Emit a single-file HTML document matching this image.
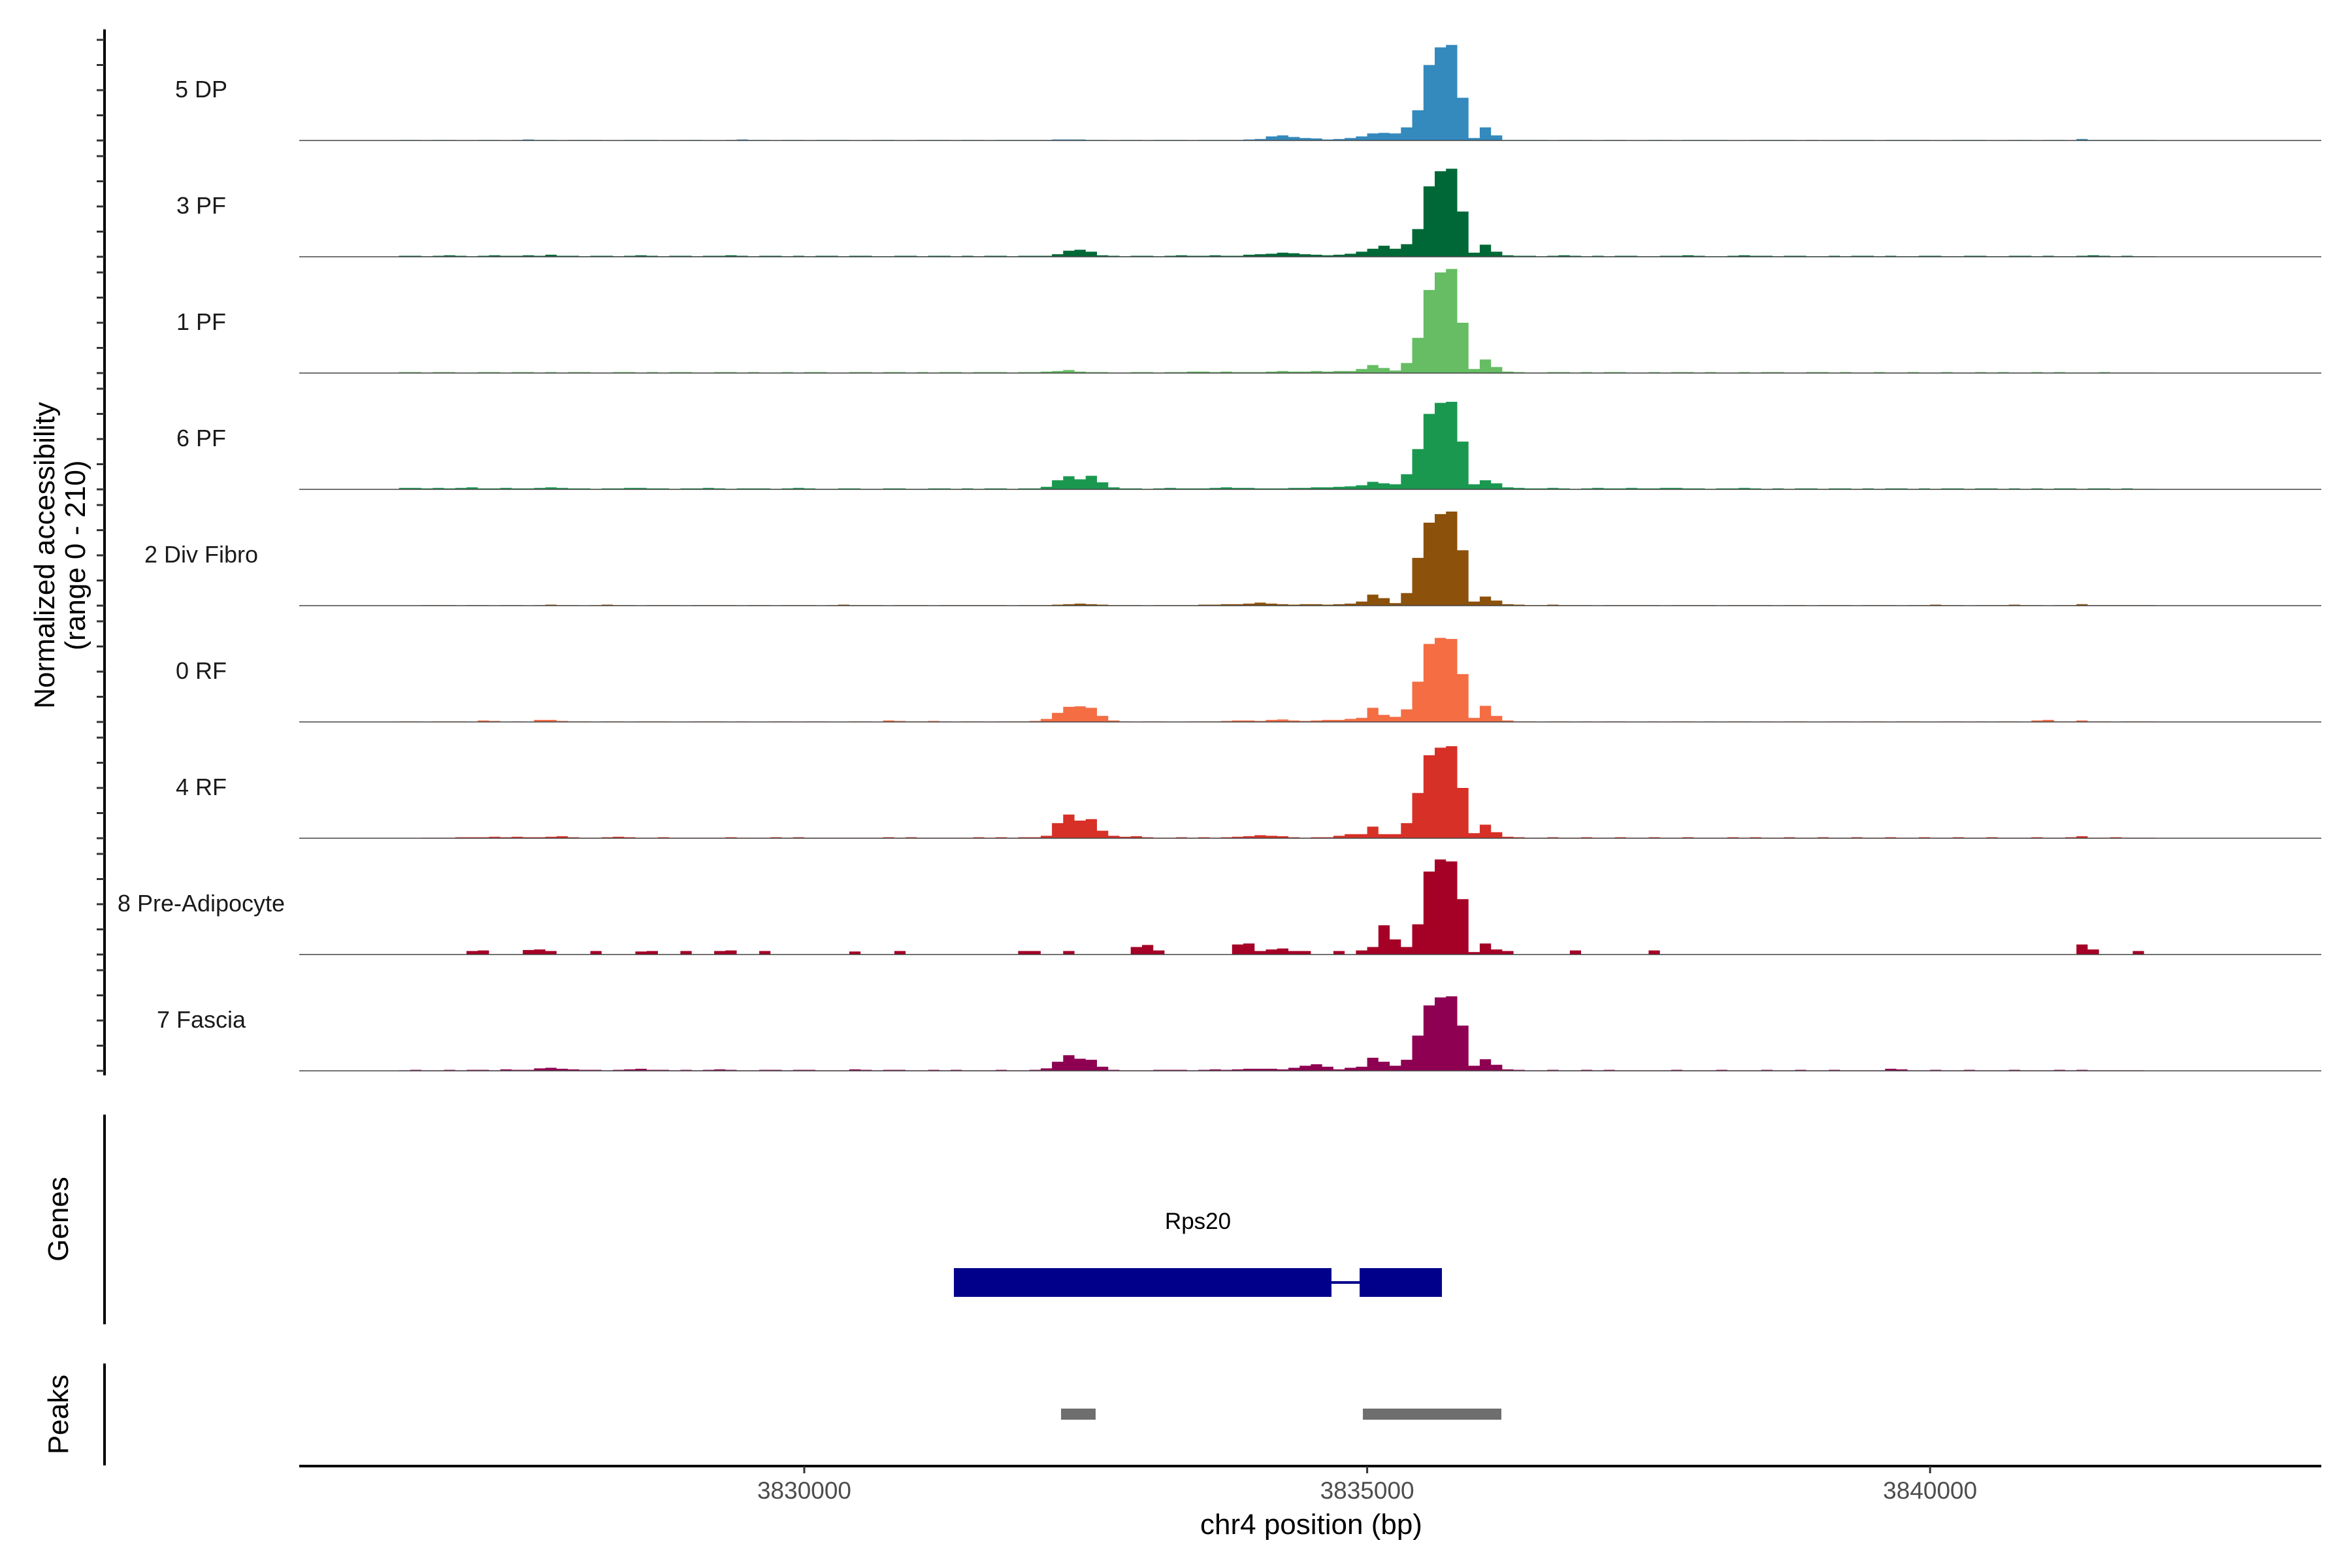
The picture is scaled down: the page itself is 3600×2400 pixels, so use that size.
<!DOCTYPE html>
<html><head><meta charset="utf-8"><style>
html,body{margin:0;padding:0;background:#fff;}
svg{display:block;font-family:"Liberation Sans",Arial,sans-serif;}
</style></head><body>
<svg id="chart" width="3600" height="2400" viewBox="0 0 3600 2400" xmlns="http://www.w3.org/2000/svg">
<rect width="3600" height="2400" fill="#fff"/>
<g id="tracks"></g>
<g id="yaxis"></g>
<text transform="translate(83,850) rotate(-90)" font-size="44" text-anchor="middle" fill="#000">Normalized accessibility</text>
<text transform="translate(130,850) rotate(-90)" font-size="44" text-anchor="middle" fill="#000">(range 0 - 210)</text>
<line x1="160" y1="1706" x2="160" y2="2027" stroke="#000" stroke-width="4"/>
<text transform="translate(104,1866) rotate(-90)" font-size="44" text-anchor="middle" fill="#000">Genes</text>
<line x1="160" y1="2087" x2="160" y2="2243" stroke="#000" stroke-width="4"/>
<text transform="translate(104,2165) rotate(-90)" font-size="44" text-anchor="middle" fill="#000">Peaks</text>
<g id="genes"></g>
<g id="peaks"></g>
<g id="xaxis"></g>
<text x="2007" y="2348" font-size="44" text-anchor="middle" fill="#000">chr4 position (bp)</text>
</svg>
<script>
const trackNames = ["5 DP","3 PF","1 PF","6 PF","2 Div Fibro","0 RF","4 RF","8 Pre-Adipocyte","7 Fascia"];
const trackColors = ["#3489bd","#006837","#66bd63","#1a9850","#8c510a","#f46d43","#d73027","#a50026","#8e0152"];
const binStartBp = 3825500;
const binSizeBp = 100;
const dp5 = [0,0,0,0,0,0,0,0,0,1,1,0,1,1,0,0,1,1,0,1,
2,1,1,0,1,1,1,0,0,1,1,1,0,0,1,1,0,0,1,2,
1,1,0,1,1,0,1,1,1,0,0,1,1,0,0,1,1,1,0,1,
1,0,1,1,1,1,1,2,2,2,1,1,0,1,1,0,1,1,1,0,
1,1,1,1,2,3,8,10,7,5,4,2,3,5,8,14,15,14,26,60,
150,185,190,85,5,26,10,1,1,1,1,0,1,1,1,0,1,1,0,0,
1,1,0,1,1,1,1,0,0,1,1,1,1,0,1,0,0,1,1,1,
0,1,1,1,1,0,0,1,1,1,0,0,1,1,0,1,1,0,3,1,
1,1,1,1,1,0,0,0,0,0,0,0,0,0,0,0,0,0,0,0];
const pf3 = [0,0,0,0,0,0,0,0,0,2,2,1,2,3,2,1,2,3,2,2,
3,2,4,2,2,1,2,2,1,2,3,2,1,2,2,1,2,2,3,2,
1,2,2,1,2,1,2,2,1,2,2,1,1,2,2,1,2,2,1,2,
1,2,2,1,2,2,2,5,12,14,10,3,2,1,2,2,1,2,3,2,
2,3,2,2,4,5,6,8,7,5,4,3,4,6,10,16,22,16,25,55,
140,170,175,90,8,24,10,3,2,2,1,2,3,2,1,2,1,2,2,1,
1,2,2,3,2,1,1,2,3,2,2,1,2,2,1,1,2,1,2,2,
1,2,1,1,2,2,1,1,2,2,1,1,2,2,1,2,1,1,2,3,
2,1,2,1,1,0,0,0,0,0,0,0,0,0,0,0,0,0,0,0];
const pf1 = [0,0,0,0,0,0,0,0,0,2,2,1,2,2,1,1,2,2,1,2,
2,1,2,1,2,2,1,1,2,2,1,2,1,2,2,1,1,2,2,1,
2,1,1,2,1,2,2,1,1,2,2,1,2,2,1,2,1,2,2,1,
2,2,2,1,2,2,3,4,6,3,2,2,1,1,2,2,1,2,2,3,
3,2,3,2,2,2,3,4,3,3,4,3,4,4,8,16,10,5,20,70,
165,200,207,100,8,27,12,3,2,1,1,2,2,1,2,1,2,2,1,1,
2,1,2,2,1,2,1,1,2,1,2,2,1,1,2,2,1,2,1,1,
2,1,1,2,1,1,2,1,1,2,1,2,1,1,2,1,2,1,1,1,
2,1,1,1,1,0,0,0,0,0,0,0,0,0,0,0,0,0,0,0];
const pf6 = [0,0,0,0,0,0,0,0,0,3,3,2,3,2,3,4,2,2,3,2,
2,3,4,3,2,2,1,2,2,3,3,2,2,1,2,2,3,2,1,2,
2,2,1,2,3,2,1,1,2,2,1,1,2,2,1,1,2,2,1,2,
1,2,2,1,2,2,5,18,26,20,27,14,4,2,2,1,2,3,2,2,
2,3,4,3,3,2,2,2,3,3,4,4,5,6,8,15,12,10,30,80,
150,172,174,95,10,18,12,4,3,2,2,3,2,1,2,3,2,2,3,2,
2,3,3,2,2,1,2,2,3,2,1,2,1,2,2,1,2,2,1,2,
1,2,2,1,2,1,2,2,1,2,2,1,2,1,2,1,2,2,1,2,
2,1,2,1,1,0,0,0,0,0,0,0,0,0,0,0,0,0,0,0];
const div2 = [0,0,0,0,0,0,0,0,0,0,0,1,1,1,0,1,1,0,1,1,
0,1,2,1,1,0,1,2,1,1,0,1,1,1,0,1,1,1,1,0,
1,1,0,1,1,1,0,1,2,1,1,1,0,1,1,1,0,1,1,1,
1,1,1,0,1,1,1,2,3,4,3,2,1,1,1,0,1,1,1,1,
2,2,3,3,4,6,4,3,2,3,3,2,3,4,8,22,15,5,25,95,
165,182,187,110,8,18,10,3,2,1,1,2,1,1,1,0,1,1,1,1,
1,0,1,1,1,1,0,1,1,1,1,0,1,1,0,1,1,1,0,1,
1,1,0,1,1,2,1,1,0,1,1,1,2,1,1,0,1,1,3,1,
1,1,1,1,1,0,0,0,0,0,0,0,0,0,0,0,0,0,0,0];
const rf0 = [0,0,0,0,0,0,0,0,0,1,1,0,1,1,1,0,3,2,0,1,
0,4,4,2,1,1,0,1,1,0,1,1,1,0,0,1,1,1,0,1,
0,0,1,1,0,1,1,0,0,1,1,0,3,2,1,1,2,1,0,1,
1,0,1,1,1,2,6,18,30,31,28,12,3,1,0,1,1,0,0,1,
1,1,2,3,3,2,4,5,3,2,3,4,4,6,8,28,14,10,25,80,
155,167,165,95,8,32,12,3,1,1,0,1,1,0,1,0,1,1,0,0,
1,0,1,1,0,1,0,1,1,0,1,0,1,1,0,0,1,1,0,1,
1,0,1,1,0,0,1,1,0,1,0,1,1,0,3,4,1,1,3,1,
1,0,1,1,1,0,0,0,0,0,0,0,0,0,0,0,0,0,0,0];
const rf4 = [0,0,0,0,0,0,0,0,0,0,0,1,1,1,2,2,2,3,2,3,
2,2,3,4,2,1,1,2,3,2,1,1,2,1,1,1,1,1,2,1,
1,1,2,1,2,1,1,1,1,1,1,1,2,1,2,1,1,1,1,1,
2,1,2,1,2,2,5,30,47,35,38,15,5,3,4,2,1,1,2,1,
2,1,2,3,4,6,5,4,2,1,2,2,5,8,8,23,8,8,30,90,
165,180,183,100,10,27,12,3,2,1,1,2,1,1,2,1,1,2,1,1,
2,1,1,2,1,1,1,2,1,2,1,1,2,1,1,2,1,1,2,1,
1,2,1,1,2,1,1,2,1,1,2,1,1,1,2,1,1,2,4,1,
1,2,1,1,1,0,0,0,0,0,0,0,0,0,0,0,0,0,0,0];
const pre8 = [0,0,0,0,0,0,0,0,0,0,0,0,0,0,0,7,8,0,0,0,
9,10,7,0,0,0,7,0,0,0,6,7,0,0,7,0,0,7,8,0,
0,7,0,0,0,0,0,0,0,6,0,0,0,7,0,0,0,0,0,0,
0,0,0,0,7,7,0,0,7,0,0,0,0,0,15,19,8,0,0,0,
0,0,0,20,22,7,10,12,7,7,0,0,7,0,8,15,58,30,15,60,
165,189,185,110,5,22,10,7,0,0,0,0,0,8,0,0,0,0,0,0,
8,0,0,0,0,0,0,0,0,0,0,0,0,0,0,0,0,0,0,0,
0,0,0,0,0,0,0,0,0,0,0,0,0,0,0,0,0,0,20,10,
0,0,0,7,0,0,0,0,0,0,0,0,0,0,0,0,0,0,0,0];
const fascia7 = [0,0,0,0,0,0,0,0,0,1,2,1,1,2,1,2,2,1,3,2,
2,5,6,4,3,2,2,1,2,3,4,2,2,1,2,1,2,3,2,1,
1,2,2,1,2,2,1,1,1,3,2,1,2,2,1,1,2,1,2,1,
1,1,2,1,1,2,5,18,31,24,22,8,2,1,1,1,2,2,2,1,
2,3,2,3,4,4,4,3,6,10,13,8,3,6,8,26,18,10,22,70,
130,146,148,90,10,23,12,3,2,1,1,2,1,1,2,1,2,1,1,1,
1,1,2,1,1,1,2,1,1,1,2,1,1,2,1,1,2,1,1,1,
1,4,3,1,1,2,1,1,2,1,1,1,2,1,1,1,2,1,2,1,
1,1,1,1,0,0,0,0,0,0,0,0,0,0,0,0,0,0,0,0];
const trackValues = [dp5,pf3,pf1,pf6,div2,rf0,rf4,pre8,fascia7];
const xTicks = [3830000,3835000,3840000];
const xTickLabels = ["3830000","3835000","3840000"];
const yTicks = [0,50,100,150,200];
const geneName = "Rps20";
const exonStarts = [3831329,3834933];
const exonEnds = [3834683,3835664];
const peakStarts = [3832281,3834962];
const peakEnds = [3832588,3836192];

const NS = "http://www.w3.org/2000/svg";
const xL = 458, xR = 3553;
function xScale(bp){ return 1231 + (bp - 3830000) * 0.17232; }
function baseY(i){ return 215 + 178 * i; }
function yScale(v, i){ return baseY(i) - v * 0.77; }
function mk(tag, attrs, parent){ const e = document.createElementNS(NS, tag); for (const k in attrs) e.setAttribute(k, attrs[k]); parent.appendChild(e); return e; }

const tracks = document.getElementById("tracks");
trackValues.forEach((vals, i) => {
  const g = mk("g", {}, tracks);
  
  
  let d = "M" + xScale(binStartBp).toFixed(1) + "," + baseY(i);
  vals.forEach((v, k) => {
    const x0 = Math.max(xL, xScale(binStartBp + k * binSizeBp));
    const x1 = Math.min(xR, xScale(binStartBp + (k + 1) * binSizeBp));
    const y = yScale(v, i).toFixed(1);
    d += " L" + x0.toFixed(1) + "," + y + " L" + x1.toFixed(1) + "," + y;
  });
  d += " L" + Math.min(xR, xScale(binStartBp + vals.length * binSizeBp)).toFixed(1) + "," + baseY(i) + " Z";
  const area = mk("path", {d: d, fill: trackColors[i], stroke: "none"}, g);
  
  
  const bl = mk("line", {x1: xL, x2: xR, y1: baseY(i), y2: baseY(i), stroke: "#444", "stroke-width": 1.5}, g);
  
  
  const lab = mk("text", {x: 308, y: baseY(i) - 66, "font-size": 36, "text-anchor": "middle", fill: "#1a1a1a"}, g);
  lab.textContent = trackNames[i];
  
  
});

const yaxis = document.getElementById("yaxis");
const yl = mk("line", {x1: 160, x2: 160, y1: 45, y2: 1646, stroke: "#000", "stroke-width": 4}, yaxis);


trackValues.forEach((vals, i) => {
  yTicks.forEach(t => {
    const y = yScale(t, i);
    const tk = mk("line", {x1: 148, x2: 160, y1: y, y2: y, stroke: "#333", "stroke-width": 3}, yaxis);
    
    
  });
});

const genes = document.getElementById("genes");
const intron = mk("line", {x1: xScale(exonEnds[0]), x2: xScale(exonStarts[1]), y1: 1963, y2: 1963, stroke: "#00008b", "stroke-width": 4}, genes);


exonStarts.forEach((s, j) => {
  const r = mk("rect", {x: xScale(s), y: 1941, width: xScale(exonEnds[j]) - xScale(s), height: 44, fill: "#00008b"}, genes);
  
  
});
const gl = mk("text", {x: (xScale(exonStarts[0]) + xScale(exonEnds[1])) / 2, y: 1881, "font-size": 35, "text-anchor": "middle", fill: "#000"}, genes);
gl.textContent = geneName;



const peaks = document.getElementById("peaks");
peakStarts.forEach((s, j) => {
  const r = mk("rect", {x: xScale(s), y: 2156, width: xScale(peakEnds[j]) - xScale(s), height: 17, fill: "#6e6e6e"}, peaks);
  
  
});

const xaxis = document.getElementById("xaxis");
const xl = mk("line", {x1: xL, x2: xR, y1: 2244, y2: 2244, stroke: "#000", "stroke-width": 4}, xaxis);


xTicks.forEach((t, j) => {
  const x = xScale(t);
  const tk = mk("line", {x1: x, x2: x, y1: 2244, y2: 2255, stroke: "#333", "stroke-width": 3}, xaxis);
  
  
  const tl = mk("text", {x: x, y: 2294, "font-size": 37, "text-anchor": "middle", fill: "#4d4d4d"}, xaxis);
  tl.textContent = xTickLabels[j];
  
  
});
</script>
</body></html>
